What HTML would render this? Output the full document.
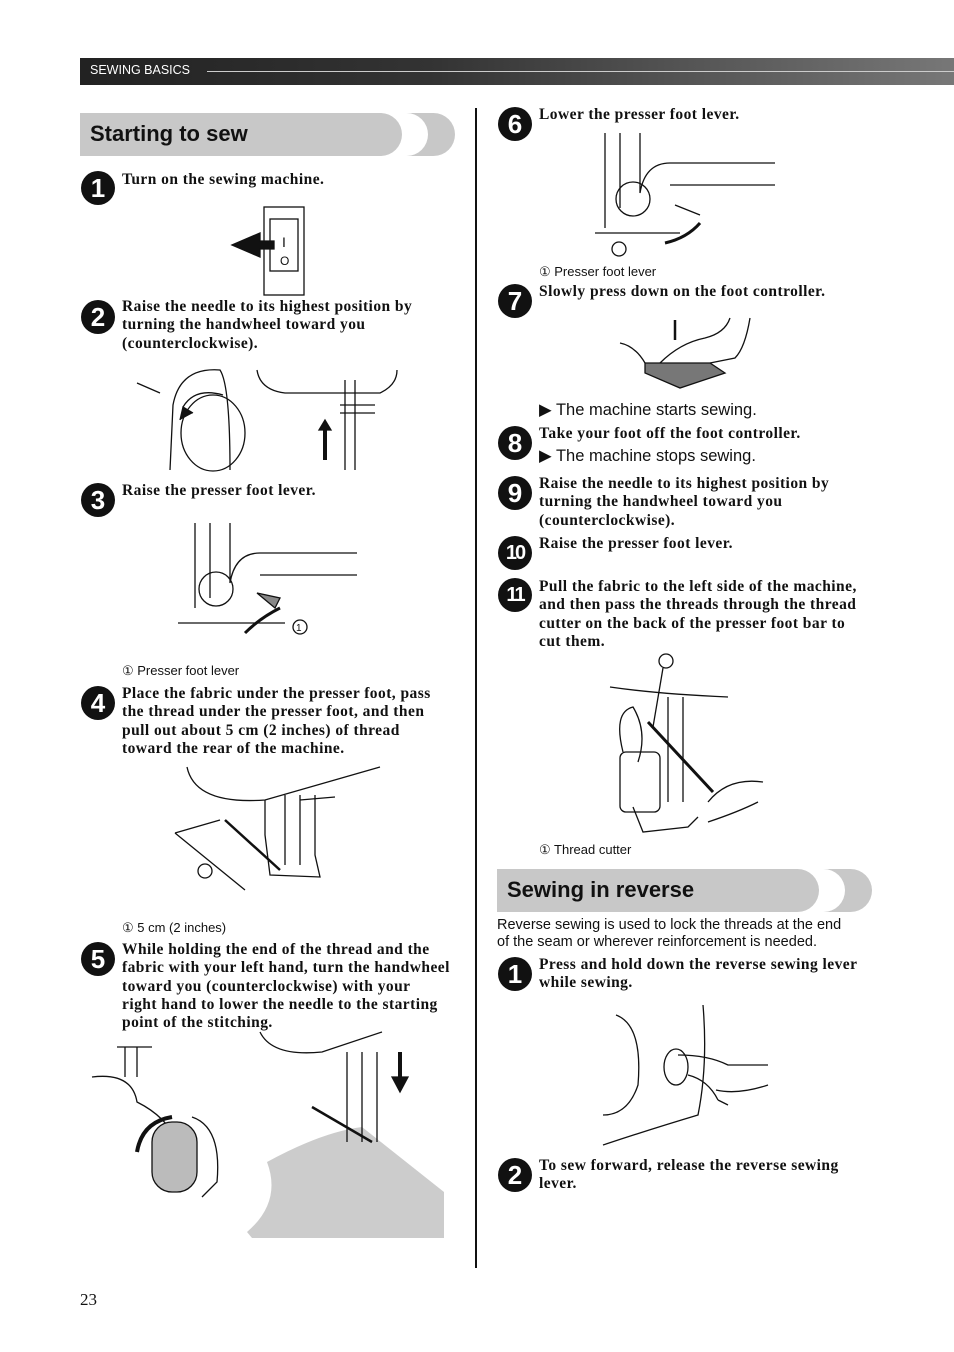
<!DOCTYPE html>
<html><head><meta charset="utf-8"><style>
body{margin:0;width:954px;height:1352px;background:#fff;position:relative;overflow:hidden;font-family:"Liberation Serif",serif;color:#111}
.a{position:absolute}
.num{position:absolute;width:34px;height:34px;border-radius:50%;background:#111;color:#fff;font:bold 26px/34px "Liberation Sans",sans-serif;text-align:center}
.num.s{font-size:20px;letter-spacing:-2px}
.t{position:absolute;font-weight:bold;font-size:15.5px;line-height:18.3px;letter-spacing:0.45px;white-space:nowrap}
.c{position:absolute;font:13px "Liberation Sans",sans-serif}
.r{position:absolute;font:16.5px "Liberation Sans",sans-serif}
.bar{position:absolute;height:43px;background:#c8c8c8;border-radius:0 22px 22px 0}
.bar span{position:absolute;left:10px;top:8px;font:bold 22px "Liberation Sans",sans-serif}
svg{position:absolute;overflow:visible}
svg *{fill:none;stroke:#111;stroke-width:1.3}
</style></head><body>
<div class="a" style="left:80px;top:58px;width:874px;height:27px;background:linear-gradient(90deg,#222,#333 40%,#777)"></div>
<div class="a" style="left:90px;top:63px;color:#fff;font:12.5px 'Liberation Sans',sans-serif">SEWING BASICS</div>
<div class="a" style="left:207px;top:71px;width:747px;height:1px;background:#ccc"></div>

<div class="bar" style="left:380px;top:113px;width:75px"></div>
<div class="a" style="left:380px;top:113px;width:48px;height:43px;background:#fff;border-radius:0 22px 22px 0"></div>
<div class="bar" style="left:80px;top:113px;width:322px"><span>Starting to sew</span></div>

<div class="num" style="left:81px;top:171px">1</div>
<div class="t" style="left:122px;top:171px">Turn on the sewing machine.</div>
<svg style="left:230px;top:205px" width="80" height="90"><rect x="34" y="2" width="40" height="88"/><rect x="40" y="14" width="28" height="52"/><path d="M2 40 L30 28 L30 36 L44 36 L44 44 L30 44 L30 52 Z" style="fill:#111"/><text x="52" y="42" style="stroke:none;fill:#111;font:14px sans-serif">I</text><text x="50" y="60" style="stroke:none;fill:#111;font:12px sans-serif">O</text></svg>

<div class="num" style="left:81px;top:300px">2</div>
<div class="t" style="left:122px;top:298px">Raise the needle to its highest position by<br>turning the handwheel toward you<br>(counterclockwise).</div>
<svg style="left:135px;top:365px" width="260" height="110"><path d="M2 18 L25 28"/><path d="M35 105 L38 40 Q45 2 85 5 Q95 20 95 105"/><ellipse cx="78" cy="68" rx="32" ry="38"/><path d="M48 42 Q60 22 88 30"/><path d="M45 55 L48 42 L58 48" style="fill:#111"/><path d="M122 5 Q125 25 150 28 L245 28 Q262 20 262 5"/><path d="M210 15 V105 M220 15 V105 M205 40 H240 M205 48 H240"/><path d="M190 95 V60" style="stroke-width:4"/><path d="M184 65 L190 55 L196 65Z" style="fill:#111"/></svg>

<div class="num" style="left:81px;top:483px">3</div>
<div class="t" style="left:122px;top:482px">Raise the presser foot lever.</div>
<svg style="left:175px;top:523px" width="190" height="115"><path d="M20 0 V85 M35 0 V75 M55 0 V60 Q60 30 85 30 L182 30 M85 52 L182 52"/><circle cx="41" cy="66" r="17"/><path d="M3 100 H110"/><path d="M82 70 L105 75 L100 85Z" style="fill:#888"/><path d="M70 110 Q85 95 105 85" style="stroke-width:3"/><circle cx="125" cy="104" r="7"/><text x="121" y="108" style="stroke:none;fill:#111;font:10px sans-serif">1</text></svg>
<div class="c" style="left:122px;top:663px">① Presser foot lever</div>

<div class="num" style="left:81px;top:686px">4</div>
<div class="t" style="left:122px;top:685px">Place the fabric under the presser foot, pass<br>the thread under the presser foot, and then<br>pull out about 5 cm (2 inches) of thread<br>toward the rear of the machine.</div>
<svg style="left:175px;top:765px" width="200" height="130"><path d="M12 2 Q20 40 90 35 L205 2"/><path d="M90 35 V70 L95 110 L145 112 L140 90 V30"/><path d="M110 30 V100 M125 30 V100 M125 35 L160 32"/><path d="M50 55 L105 105" style="stroke-width:2.5"/><path d="M0 68 L45 55 M0 68 L70 125"/><circle cx="30" cy="106" r="7"/></svg>
<div class="c" style="left:122px;top:920px">① 5 cm (2 inches)</div>

<div class="num" style="left:81px;top:942px">5</div>
<div class="t" style="left:122px;top:941px">While holding the end of the thread and the<br>fabric with your left hand, turn the handwheel<br>toward you (counterclockwise) with your<br>right hand to lower the needle to the starting<br>point of the stitching.</div>
<svg style="left:92px;top:1032px" width="352" height="210"><path d="M0 45 Q40 40 45 70 Q75 85 85 110"/><path d="M25 15 H60 M33 15 V45 M45 15 V45"/><rect x="60" y="90" width="45" height="70" rx="20" style="fill:#bbb"/><path d="M45 120 Q50 90 80 85" style="stroke-width:4"/><path d="M100 85 Q130 95 125 150 L110 165"/><path d="M155 200 Q190 170 175 130 Q230 100 270 95 L352 160 V206 H160Z" style="fill:#ccc;stroke:none"/><path d="M168 0 Q180 25 230 20 L290 0 M255 20 V110 M270 20 V110 M285 20 V110"/><path d="M220 75 L280 110" style="stroke-width:2.5"/><path d="M308 20 V50" style="stroke-width:4"/><path d="M300 45 L308 60 L316 45Z" style="fill:#111"/></svg>

<div class="a" style="left:475px;top:108px;width:2px;height:1160px;background:#111"></div>

<div class="num" style="left:498px;top:107px">6</div>
<div class="t" style="left:539px;top:106px">Lower the presser foot lever.</div>
<svg style="left:595px;top:133px" width="190" height="125"><path d="M10 0 V95 M25 0 V75 M45 0 V60 Q50 30 75 30 L180 30 M75 52 L180 52"/><circle cx="38" cy="66" r="17"/><path d="M0 100 H85"/><path d="M80 72 L105 82"/><path d="M70 110 Q92 105 105 90" style="stroke-width:3"/><circle cx="24" cy="116" r="7"/></svg>
<div class="c" style="left:539px;top:264px">① Presser foot lever</div>

<div class="num" style="left:498px;top:284px">7</div>
<div class="t" style="left:539px;top:283px">Slowly press down on the foot controller.</div>
<svg style="left:620px;top:318px" width="140" height="80"><path d="M25 45 L90 45 L105 55 L60 70 L25 55Z" style="fill:#777"/><path d="M40 45 Q60 25 85 20 Q105 15 110 0 M130 0 Q125 30 115 40 L90 45"/><path d="M55 2 V22" style="stroke-width:2.5"/><path d="M0 25 Q15 28 25 45"/></svg>
<div class="r" style="left:539px;top:400px">▶ The machine starts sewing.</div>

<div class="num" style="left:498px;top:426px">8</div>
<div class="t" style="left:539px;top:425px">Take your foot off the foot controller.</div>
<div class="r" style="left:539px;top:446px">▶ The machine stops sewing.</div>

<div class="num" style="left:498px;top:476px">9</div>
<div class="t" style="left:539px;top:475px">Raise the needle to its highest position by<br>turning the handwheel toward you<br>(counterclockwise).</div>

<div class="num s" style="left:498px;top:536px">10</div>
<div class="t" style="left:539px;top:535px">Raise the presser foot lever.</div>

<div class="num s" style="left:498px;top:578px">11</div>
<div class="t" style="left:539px;top:578px">Pull the fabric to the left side of the machine,<br>and then pass the threads through the thread<br>cutter on the back of the presser foot bar to<br>cut them.</div>
<svg style="left:608px;top:652px" width="160" height="190"><circle cx="58" cy="9" r="7"/><path d="M55 16 L45 75"/><path d="M2 35 Q50 42 120 45"/><path d="M15 100 Q5 60 25 55 Q40 80 30 110"/><rect x="12" y="100" width="40" height="60" rx="6"/><path d="M25 155 L35 180 L80 175 L90 165"/><path d="M60 45 V150 M75 45 V150"/><path d="M40 70 L105 140" style="stroke-width:3"/><path d="M100 150 Q120 125 155 130 M100 170 Q130 160 150 150"/></svg>
<div class="c" style="left:539px;top:842px">① Thread cutter</div>

<div class="bar" style="left:797px;top:869px;width:75px"></div>
<div class="a" style="left:797px;top:869px;width:48px;height:43px;background:#fff;border-radius:0 22px 22px 0"></div>
<div class="bar" style="left:497px;top:869px;width:322px"><span>Sewing in reverse</span></div>
<div class="a" style="left:497px;top:917px;font:14.5px/17px 'Liberation Sans',sans-serif">Reverse sewing is used to lock the threads at the end<br>of the seam or wherever reinforcement is needed.</div>

<div class="num" style="left:498px;top:957px">1</div>
<div class="t" style="left:539px;top:956px">Press and hold down the reverse sewing lever<br>while sewing.</div>
<svg style="left:598px;top:1005px" width="175" height="150"><path d="M18 10 Q45 20 40 80 Q30 110 5 110"/><path d="M105 0 Q110 60 100 110 Q50 125 5 140"/><ellipse cx="78" cy="62" rx="12" ry="18"/><path d="M80 50 Q110 50 130 60 L170 60 M90 70 Q110 75 120 95 M118 85 Q140 90 170 80 M120 95 L130 100"/></svg>

<div class="num" style="left:498px;top:1158px">2</div>
<div class="t" style="left:539px;top:1157px">To sew forward, release the reverse sewing<br>lever.</div>

<div class="a" style="left:80px;top:1290px;font-size:17px">23</div>
</body></html>
